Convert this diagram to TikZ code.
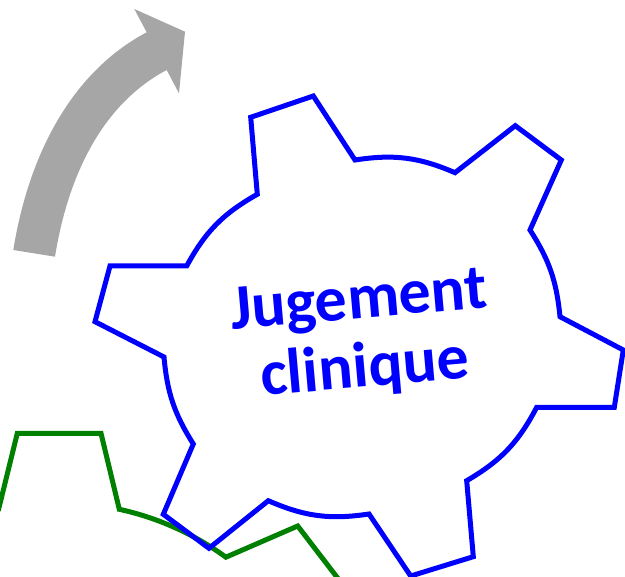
\documentclass[tikz,border=0pt]{standalone}
\usepackage{fontspec}
\newfontfamily\calibri{Carlito}
\definecolor{arrowgray}{RGB}{166,166,166}
\definecolor{gearblue}{RGB}{0,0,255}
\definecolor{geargreen}{RGB}{0,128,0}
\begin{document}
\begin{tikzpicture}[x=1pt,y=1pt,
  gearline/.style={line width=5pt, line join=miter},
  labeltext/.style={text=gearblue, font=\calibri\bfseries\fontsize{64}{68.6}\selectfont, align=center, inner sep=0pt}]
\useasboundingbox (0,0) rectangle (625,-577);
\clip (0,0) rectangle (625,-577);
% gray curved arrow
\fill[arrowgray] (13.3,-250) .. controls (27.5,-161.5) and (67.5,-74.3) .. (146.7,-32.3)
  -- (134.3,-9) -- (185,-31.7) -- (179,-93.3) -- (166.7,-70)
  .. controls (99.1,-105.8) and (67.1,-181.1) .. (55,-256.7) -- cycle;
% green gear (partial)
\draw[gearline, geargreen] (59,-786) ++(112:283.4) arc[start angle=112, end angle=102.3, radius=283.4]
  -- (17.3,-433.3) -- (101,-433.3) -- (119.3,-509.3)
  arc[start angle=77.7, end angle=53.9, radius=283.4]
  -- (297.7,-526) -- (356,-602);
% blue gear
\draw[gearline, gearblue]
  (257.3,-194.3) -- (250.7,-117.3) -- (313.3,-96) -- (355,-160)
  to[bend left=16] (455,-172.7) -- (515.3,-125.7) -- (561.3,-160) -- (530,-230)
  to[bend left=13.5] (560,-316.7) -- (623.3,-350) -- (614.3,-407.3) -- (536.7,-407.3)
  to[bend left=16] (466.7,-480.7) -- (473.3,-556.7) -- (410.7,-576) -- (369,-514)
  to[bend left=16] (268.3,-500.7) -- (209,-548.3) -- (163.3,-514.3) -- (193.3,-444)
  to[bend left=13.5] (164,-357) -- (95,-321.7) -- (110,-266) -- (186.7,-266)
  to[bend left=16] cycle;
\node[labeltext, rotate=5] (label) at (362,-337) {Jugement\\clinique};
\end{tikzpicture}
\end{document}
